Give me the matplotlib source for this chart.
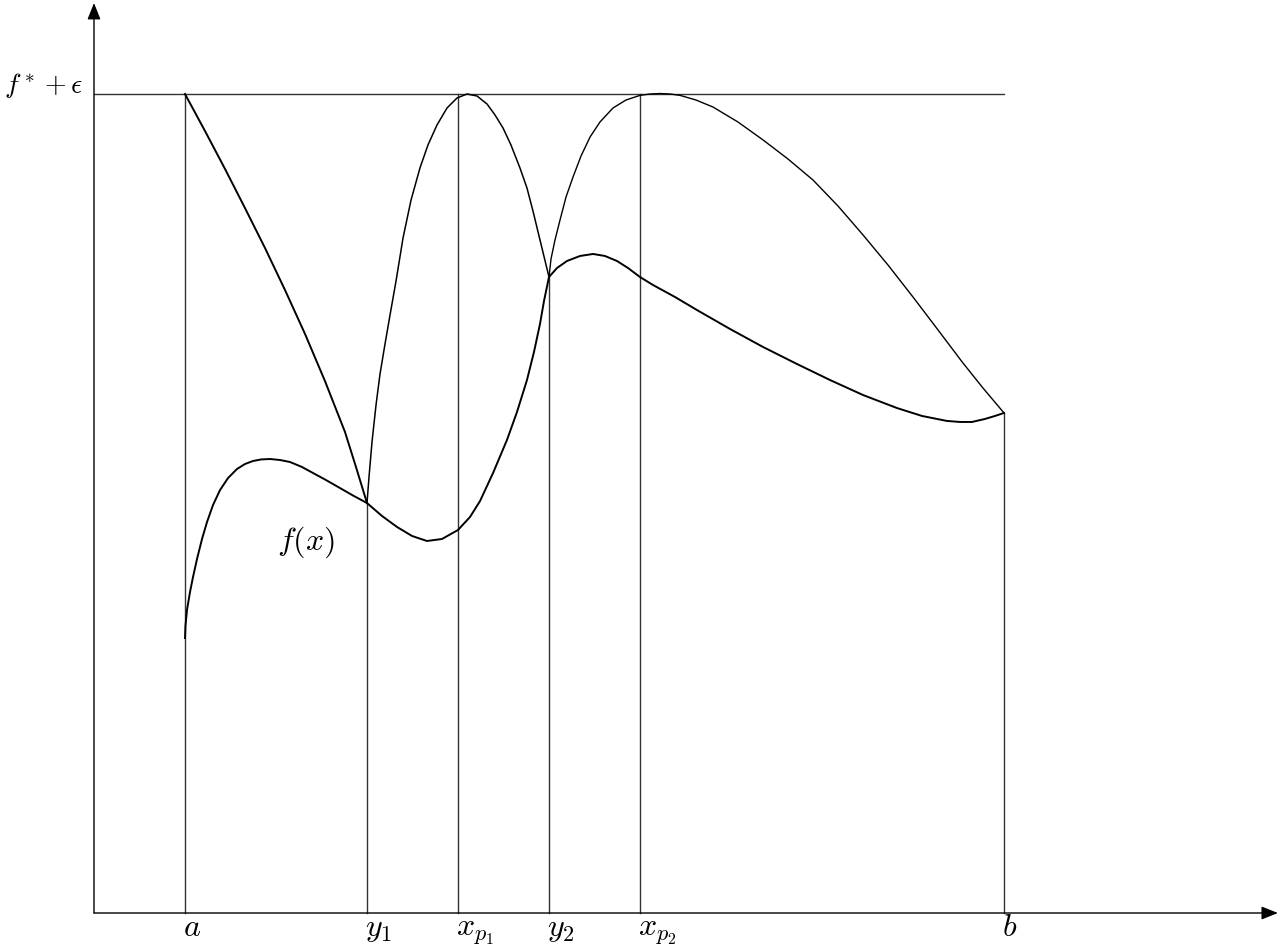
import matplotlib.pyplot as plt

plt.rcParams['mathtext.fontset'] = 'cm'

# Data (x in units of the marked points, y in units where f*+eps = 9)
f_x = [1.0, 1.005, 1.022, 1.055, 1.088, 1.132, 1.187, 1.242, 1.308, 1.385, 1.473,
       1.571, 1.659, 1.747, 1.835, 1.934, 2.044, 2.154, 2.286, 2.407, 2.549, 2.703,
       2.846, 3.0, 3.165, 3.330, 3.495, 3.659, 3.824, 4.0, 4.132, 4.242, 4.385,
       4.538, 4.648, 4.758, 4.835, 4.901, 4.945, 5.0,
       5.088, 5.198, 5.341, 5.484, 5.615, 5.747, 5.868, 6.0,
       6.143, 6.385, 6.626, 6.989, 7.352, 7.725, 8.088, 8.451, 8.824, 9.099,
       9.374, 9.516, 9.648, 9.791, 9.901, 10.0]
f_y = [3.022, 3.154, 3.330, 3.527, 3.692, 3.890, 4.110, 4.297, 4.484, 4.648, 4.780,
       4.879, 4.934, 4.967, 4.984, 4.989, 4.978, 4.956, 4.901, 4.835, 4.758, 4.670,
       4.588, 4.505, 4.363, 4.242, 4.143, 4.088, 4.110, 4.209, 4.352, 4.527, 4.835,
       5.198, 5.505, 5.857, 6.165, 6.473, 6.725, 6.989,
       7.088, 7.165, 7.220, 7.242, 7.220, 7.165, 7.088, 6.989,
       6.901, 6.769, 6.626, 6.418, 6.220, 6.033, 5.857, 5.692, 5.549, 5.462,
       5.407, 5.396, 5.396, 5.429, 5.462, 5.495]

# bound from a down to y1
left_x = [1.0, 1.220, 1.440, 1.659, 1.879, 2.099, 2.319, 2.538, 2.758, 2.879, 3.0]
left_y = [9.0, 8.593, 8.176, 7.747, 7.308, 6.846, 6.363, 5.846, 5.286, 4.901, 4.505]

# bound between y1 and y2, touching f*+eps near x_p1
mid_x = [3.0, 3.022, 3.055, 3.099, 3.143, 3.198, 3.253, 3.319, 3.396, 3.484, 3.582,
         3.670, 3.769, 3.879, 3.989, 4.099, 4.209, 4.319, 4.407, 4.495, 4.582,
         4.681, 4.758, 4.824, 4.901, 5.0]
mid_y = [4.505, 4.791, 5.176, 5.582, 5.923, 6.253, 6.571, 6.945, 7.418, 7.835, 8.187,
         8.440, 8.659, 8.846, 8.956, 9.0, 8.978, 8.890, 8.769, 8.626, 8.440,
         8.187, 7.967, 7.714, 7.396, 6.989]

# bound between y2 and b, touching f*+eps near x_p2
right_x = [5.0, 5.022, 5.066, 5.121, 5.187, 5.264, 5.352, 5.451, 5.560, 5.703, 5.846,
           6.0, 6.110, 6.220, 6.330, 6.440, 6.615, 6.802, 7.077, 7.352, 7.626, 7.901,
           8.176, 8.451, 8.725, 9.0, 9.275, 9.549, 9.769, 10.0]
right_y = [6.989, 7.187, 7.396, 7.615, 7.868, 8.088, 8.319, 8.527, 8.692, 8.846, 8.934,
           8.985, 9.0, 9.005, 9.0, 8.985, 8.934, 8.857, 8.692, 8.495, 8.286, 8.055,
           7.769, 7.451, 7.121, 6.769, 6.407, 6.044, 5.769, 5.495]

level = 9.0
marks = [1.0, 3.0, 4.0, 5.0, 6.0, 10.0]
mark_tops = [9.0, 4.505, 9.0, 6.989, 9.0, 5.495]
mark_labels = ['$a$', '$y_1$', '$x_{p_1}$', '$y_2$', '$x_{p_2}$', '$b$']

fig = plt.figure(figsize=(12.81, 9.49), dpi=100)
ax = fig.add_axes([0, 0, 1, 1])
ax.set_xlim(-94 / 91, (1281 - 94) / 91)
ax.set_ylim((913 - 949) / 91, 913 / 91)
ax.axis('off')

# axes with arrows
arrow = dict(arrowstyle='-|>,head_length=0.5,head_width=0.2', mutation_scale=20,
             lw=1.0, color='black', shrinkA=0, shrinkB=0)
ax.annotate('', xy=(13.01, 0), xytext=(0, 0), arrowprops=arrow)
ax.annotate('', xy=(0, 10.0), xytext=(0, 0), arrowprops=arrow)

# level line and vertical markers
ax.plot([0, marks[-1]], [level, level], color='#333333', lw=1.0)
for xm, top in zip(marks, mark_tops):
    ax.plot([xm, xm], [0, top], color='#333333', lw=1.0)

# curves
ax.plot(f_x, f_y, color='black', lw=1.4, solid_joinstyle='round')
ax.plot(left_x, left_y, color='black', lw=1.4, solid_joinstyle='round')
ax.plot(mid_x, mid_y, color='black', lw=1.1, solid_joinstyle='round')
ax.plot(right_x, right_y, color='black', lw=1.0, solid_joinstyle='round')

# labels
for xm, lab in zip(marks, mark_labels):
    ax.text(xm - 0.02, -0.25, lab, fontsize=23, ha='left', va='baseline')
ax.text(-0.12, 9.01, r'$f^*+\epsilon$', fontsize=20, ha='right', va='baseline')
ax.text(2.01, 3.99, '$f(x)$', fontsize=23, ha='left', va='baseline')

fig.savefig('out.png', dpi=100)
